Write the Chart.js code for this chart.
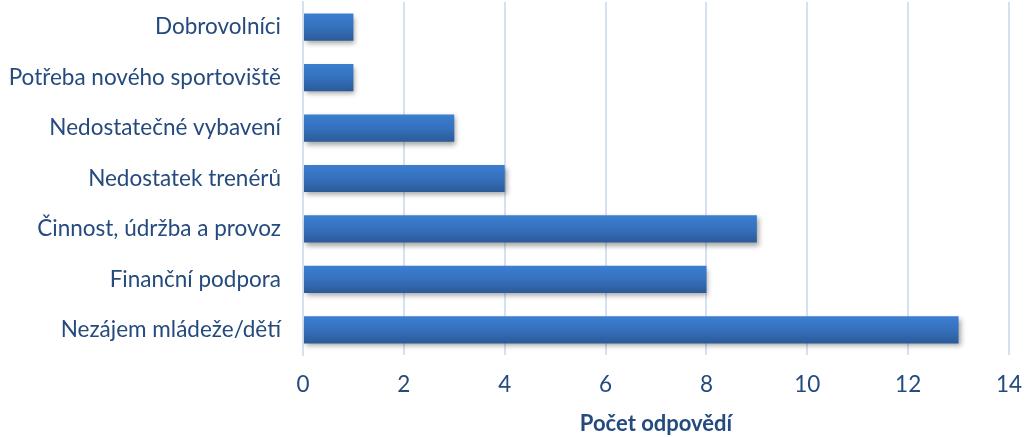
<!DOCTYPE html>
<html><head><meta charset="utf-8">
<script src="https://cdn.jsdelivr.net/npm/chart.js@4"></script>
<style>html,body{margin:0;padding:0;background:#fff}#wrap{width:1025px;height:437px}</style>
</head><body><div id="wrap"><canvas id="c" width="1025" height="437"></canvas></div>
<script>
const categories = ["Dobrovolníci","Potřeba nového sportoviště","Nedostatečné vybavení","Nedostatek trenérů","Činnost, údržba a provoz","Finanční podpora","Nezájem mládeže/dětí"];
const values = [1,1,3,4,9,8,13];
const xTicks = [0,2,4,6,8,10,12,14];
const axisTitle = "Počet odpovědí";

const textColor = "#244A7E";
const barStyle = {
  id: "barStyle",
  beforeDatasetsDraw(chart) {
    const ctx = chart.ctx;
    const meta = chart.getDatasetMeta(0);
    meta.data.forEach(el => {
      const h = el.height, top = el.y - h/2;
      const g = ctx.createLinearGradient(0, top, 0, top + h);
      g.addColorStop(0, "#3C7ED0");
      g.addColorStop(0.5, "#3571BD");
      g.addColorStop(1, "#2C5A98");
      el.options = Object.assign({}, el.options, {backgroundColor: g});
    });
    ctx.save();
    ctx.shadowColor = "rgba(0,0,0,0.35)";
    ctx.shadowBlur = 5;
    ctx.shadowOffsetX = 2;
    ctx.shadowOffsetY = 3;
  },
  afterDatasetsDraw(chart) { chart.ctx.restore(); }
};

new Chart(document.getElementById("c"), {
  type: "bar",
  data: { labels: categories, datasets: [{ data: values, backgroundColor: "#3571BD", barPercentage: 0.54, categoryPercentage: 1 }] },
  options: {
    indexAxis: "y",
    responsive: false,
    animation: false,
    layout: { padding: { left: 4, right: 16, top: 2, bottom: 0 } },
    plugins: { legend: { display: false }, tooltip: { enabled: false } },
    scales: {
      x: {
        min: 0, max: 14,
        afterBuildTicks(s) { s.ticks = xTicks.map(v => ({ value: v })); },
        grid: { color: "#D5E1F1", lineWidth: 2, drawTicks: false },
        border: { display: false },
        ticks: { color: textColor, font: { family: "Lato", size: 22.5 }, padding: 16, maxRotation: 0 },
        title: { display: true, text: axisTitle, color: textColor, font: { family: "Lato", size: 22, weight: "bold" }, padding: { top: 10, bottom: 0 } },
        afterFit(s) { s.height = 82; s.paddingLeft = 0; s.paddingRight = 0; }
      },
      y: {
        grid: { display: false, drawTicks: false },
        border: { color: "#D5E1F1", width: 2 },
        ticks: { color: textColor, font: { family: "Lato", size: 22.5 }, padding: 22 },
        afterFit(s) { s.width = 299; s.paddingTop = 0; s.paddingBottom = 0; }
      }
    }
  },
  plugins: [barStyle]
});
</script></body></html>
